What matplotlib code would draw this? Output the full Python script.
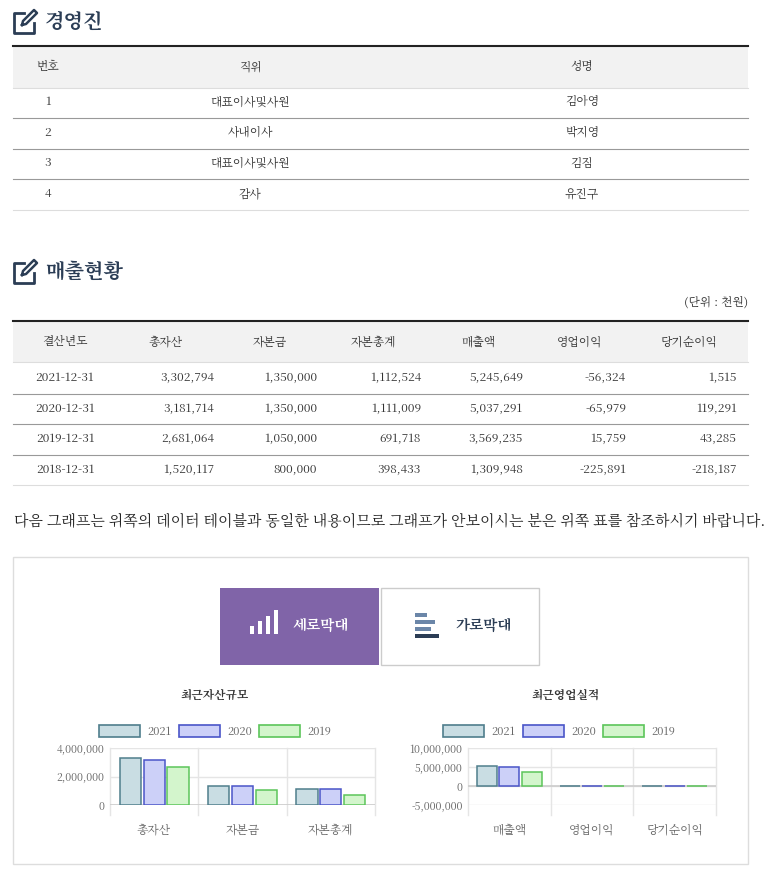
import matplotlib
matplotlib.use("Agg")
import matplotlib.pyplot as plt
from matplotlib import font_manager
from matplotlib.patches import Rectangle
import numpy as np

# pick whatever CJK family is registered
cjk = [f.name for f in font_manager.fontManager.ttflist if "CJK" in f.name]
kr = [n for n in cjk if n.endswith("KR")]
plt.rcParams["font.family"] = (kr or cjk or ["DejaVu Sans"])[:1] + ["DejaVu Sans"]

# ---- data ----
exec_cols = ["번호", "직위", "성명"]
exec_rows = [["1", "대표이사및사원", "김아영"],
             ["2", "사내이사", "박지영"],
             ["3", "대표이사및사원", "김짐"],
             ["4", "감사", "유진구"]]

fin_cols = ["결산년도", "총자산", "자본금", "자본총계", "매출액", "영업이익", "당기순이익"]
fin_years = ["2021-12-31", "2020-12-31", "2019-12-31", "2018-12-31"]
fin_vals = [[3302794, 1350000, 1112524, 5245649, -56324, 1515],
            [3181714, 1350000, 1111009, 5037291, -65979, 119291],
            [2681064, 1050000, 691718, 3569235, 15759, 43285],
            [1520117, 800000, 398433, 1309948, -225891, -218187]]

series = ["2021", "2020", "2019"]
asset_cats = ["총자산", "자본금", "자본총계"]
biz_cats = ["매출액", "영업이익", "당기순이익"]
fills = ["#c9dde3", "#ccd0f8", "#d3f5cc"]
edges = ["#4f7e8c", "#4a55c8", "#5cc55a"]

W, H = 773, 872
fig = plt.figure(figsize=(W / 100, H / 100), dpi=100)
bg = fig.add_axes([0, 0, 1, 1])
bg.set_xlim(0, W)
bg.set_ylim(H, 0)
bg.axis("off")

dark = "#2b3d55"
txt = "#333333"


def pen_icon(x, y):
    bg.plot([x + 10, x, x, x + 20, x + 20], [y, y, y + 20, y + 20, y + 10], color=dark, lw=2)
    bg.plot([x + 8, x + 9, x + 20, x + 23, x + 12, x + 8],
            [y + 12, y + 8, y - 3, y, y + 11, y + 12], color=dark, lw=1.8)


def section(title, y):
    pen_icon(14, y - 9)
    bg.text(45, y, title, fontsize=14.5, fontweight="bold", color=dark, va="center")


def hline(y, c="#dddddd", lw=1, x0=13, x1=748):
    bg.plot([x0, x1], [y, y], color=c, lw=lw)


# ---- 경영진 ----
section("경영진", 22)
bg.add_patch(Rectangle((13, 46), 735, 42, color="#f2f2f2", lw=0))
hline(46, "#222222", 1.5)
exec_x = [48, 250, 582]
for x, c in zip(exec_x, exec_cols):
    bg.text(x, 67, c, fontsize=8.5, ha="center", va="center", color=txt)
for i, row in enumerate(exec_rows):
    yc = 102 + i * 30.7
    for x, v in zip(exec_x, row):
        bg.text(x, yc, v, fontsize=8.5, ha="center", va="center", color=txt)
    hline(yc + 16, "#999999" if i < 3 else "#dddddd", 0.8)
hline(88, "#dddddd", 0.8)

# ---- 매출현황 ----
section("매출현황", 272)
bg.text(748, 302, "(단위 : 천원)", fontsize=8.5, ha="right", va="center", color=txt)
bg.add_patch(Rectangle((13, 321), 735, 41, color="#f2f2f2", lw=0))
hline(321, "#222222", 1.5)
hline(362, "#dddddd", 0.8)
head_x = [65, 166, 270, 373, 478, 580, 689]
val_x = [214, 317, 421, 523, 626, 737]
for x, c in zip(head_x, fin_cols):
    bg.text(x, 342, c, fontsize=8.5, ha="center", va="center", color=txt)
for i, (yr, vals) in enumerate(zip(fin_years, fin_vals)):
    yc = 378 + i * 30.5
    bg.text(head_x[0], yc, yr, fontsize=8.5, ha="center", va="center", color=txt)
    for x, v in zip(val_x, vals):
        bg.text(x, yc, f"{v:,}", fontsize=8.5, ha="right", va="center", color=txt)
    hline(yc + 15.5, "#999999" if i < 3 else "#dddddd", 0.8)

bg.text(14, 522, "다음 그래프는 위쪽의 데이터 테이블과 동일한 내용이므로 그래프가 안보이시는 분은 위쪽 표를 참조하시기 바랍니다.",
        fontsize=10.8, va="center", color="#222222")

# ---- chart box ----
bg.add_patch(Rectangle((13, 557), 735, 307, fill=False, ec="#dddddd", lw=1))
bg.add_patch(Rectangle((220, 588), 159, 77, color="#8064a8", lw=0))
bg.add_patch(Rectangle((381, 588), 158, 77, fill=False, ec="#cccccc", lw=1))
for k, h in enumerate([8, 13, 18, 24]):
    bg.add_patch(Rectangle((250 + k * 8, 634 - h), 4, h, color="white", lw=0))
bg.text(292, 626, "세로막대", fontsize=10.5, fontweight="bold", color="white", va="center")
for k, (wd, c) in enumerate([(12, "#6b86a8"), (20, "#6b86a8"), (16, "#6b86a8"), (24, dark)]):
    bg.add_patch(Rectangle((415, 613 + k * 7), wd, 4, color=c, lw=0))
bg.text(455, 626, "가로막대", fontsize=10.5, fontweight="bold", color=dark, va="center")

bg.text(215, 695, "최근자산규모", fontsize=8.5, fontweight="bold", ha="center", va="center", color="#333")
bg.text(566, 695, "최근영업실적", fontsize=8.5, fontweight="bold", ha="center", va="center", color="#333")

for lx0 in (99, 443):
    for k, s in enumerate(series):
        x = lx0 + k * 80
        bg.add_patch(Rectangle((x, 725), 41, 12, fc=fills[k], ec=edges[k], lw=1.2))
        bg.text(x + 48, 731.5, s, fontsize=8, va="center", color="#666666")


def fig_rect(x0, y0, x1, y1):
    return [x0 / W, 1 - y1 / H, (x1 - x0) / W, (y1 - y0) / H]


def bar_chart(rect, cats, data, ylim, yticks):
    ax = fig.add_axes(fig_rect(*rect))
    x = np.arange(len(cats))
    for k in range(len(series)):
        ax.bar(x + (k - 1) * 0.27, data[k], width=0.24, color=fills[k],
               edgecolor=edges[k], linewidth=1.1, zorder=3)
    ax.set_xlim(-0.5, len(cats) - 0.5)
    ax.set_ylim(*ylim)
    ax.set_yticks(yticks)
    ax.set_yticklabels([f"{t:,}" for t in yticks], fontsize=7.5, color="#666666")
    ax.set_xticks(x)
    ax.set_xticklabels(cats, fontsize=8.5, color="#666666")
    ax.tick_params(axis="x", length=0, pad=14)
    ax.tick_params(axis="y", length=0, pad=4)
    ax.grid(axis="y", color="#e5e5e5", lw=1, zorder=0)
    ax.axhline(0, color="#cccccc", lw=1.2, zorder=2)
    for b in np.arange(len(cats) + 1) - 0.5:
        ax.plot([b, b], [ylim[0] - (ylim[1] - ylim[0]) * 0.17, ylim[1]],
                color="#e5e5e5", lw=1, clip_on=False, zorder=0)
    for s in ax.spines.values():
        s.set_visible(False)
    return ax


asset = [[r[0], r[1], r[2]] for r in fin_vals[:3]]
biz = [[r[3], r[4], r[5]] for r in fin_vals[:3]]
bar_chart((110, 748, 375, 805), asset_cats, asset, (0, 4000000), [0, 2000000, 4000000])
bar_chart((468, 748, 716, 805), biz_cats, biz, (-5000000, 10000000),
          [-5000000, 0, 5000000, 10000000])

fig.savefig("out.png", dpi=100)
